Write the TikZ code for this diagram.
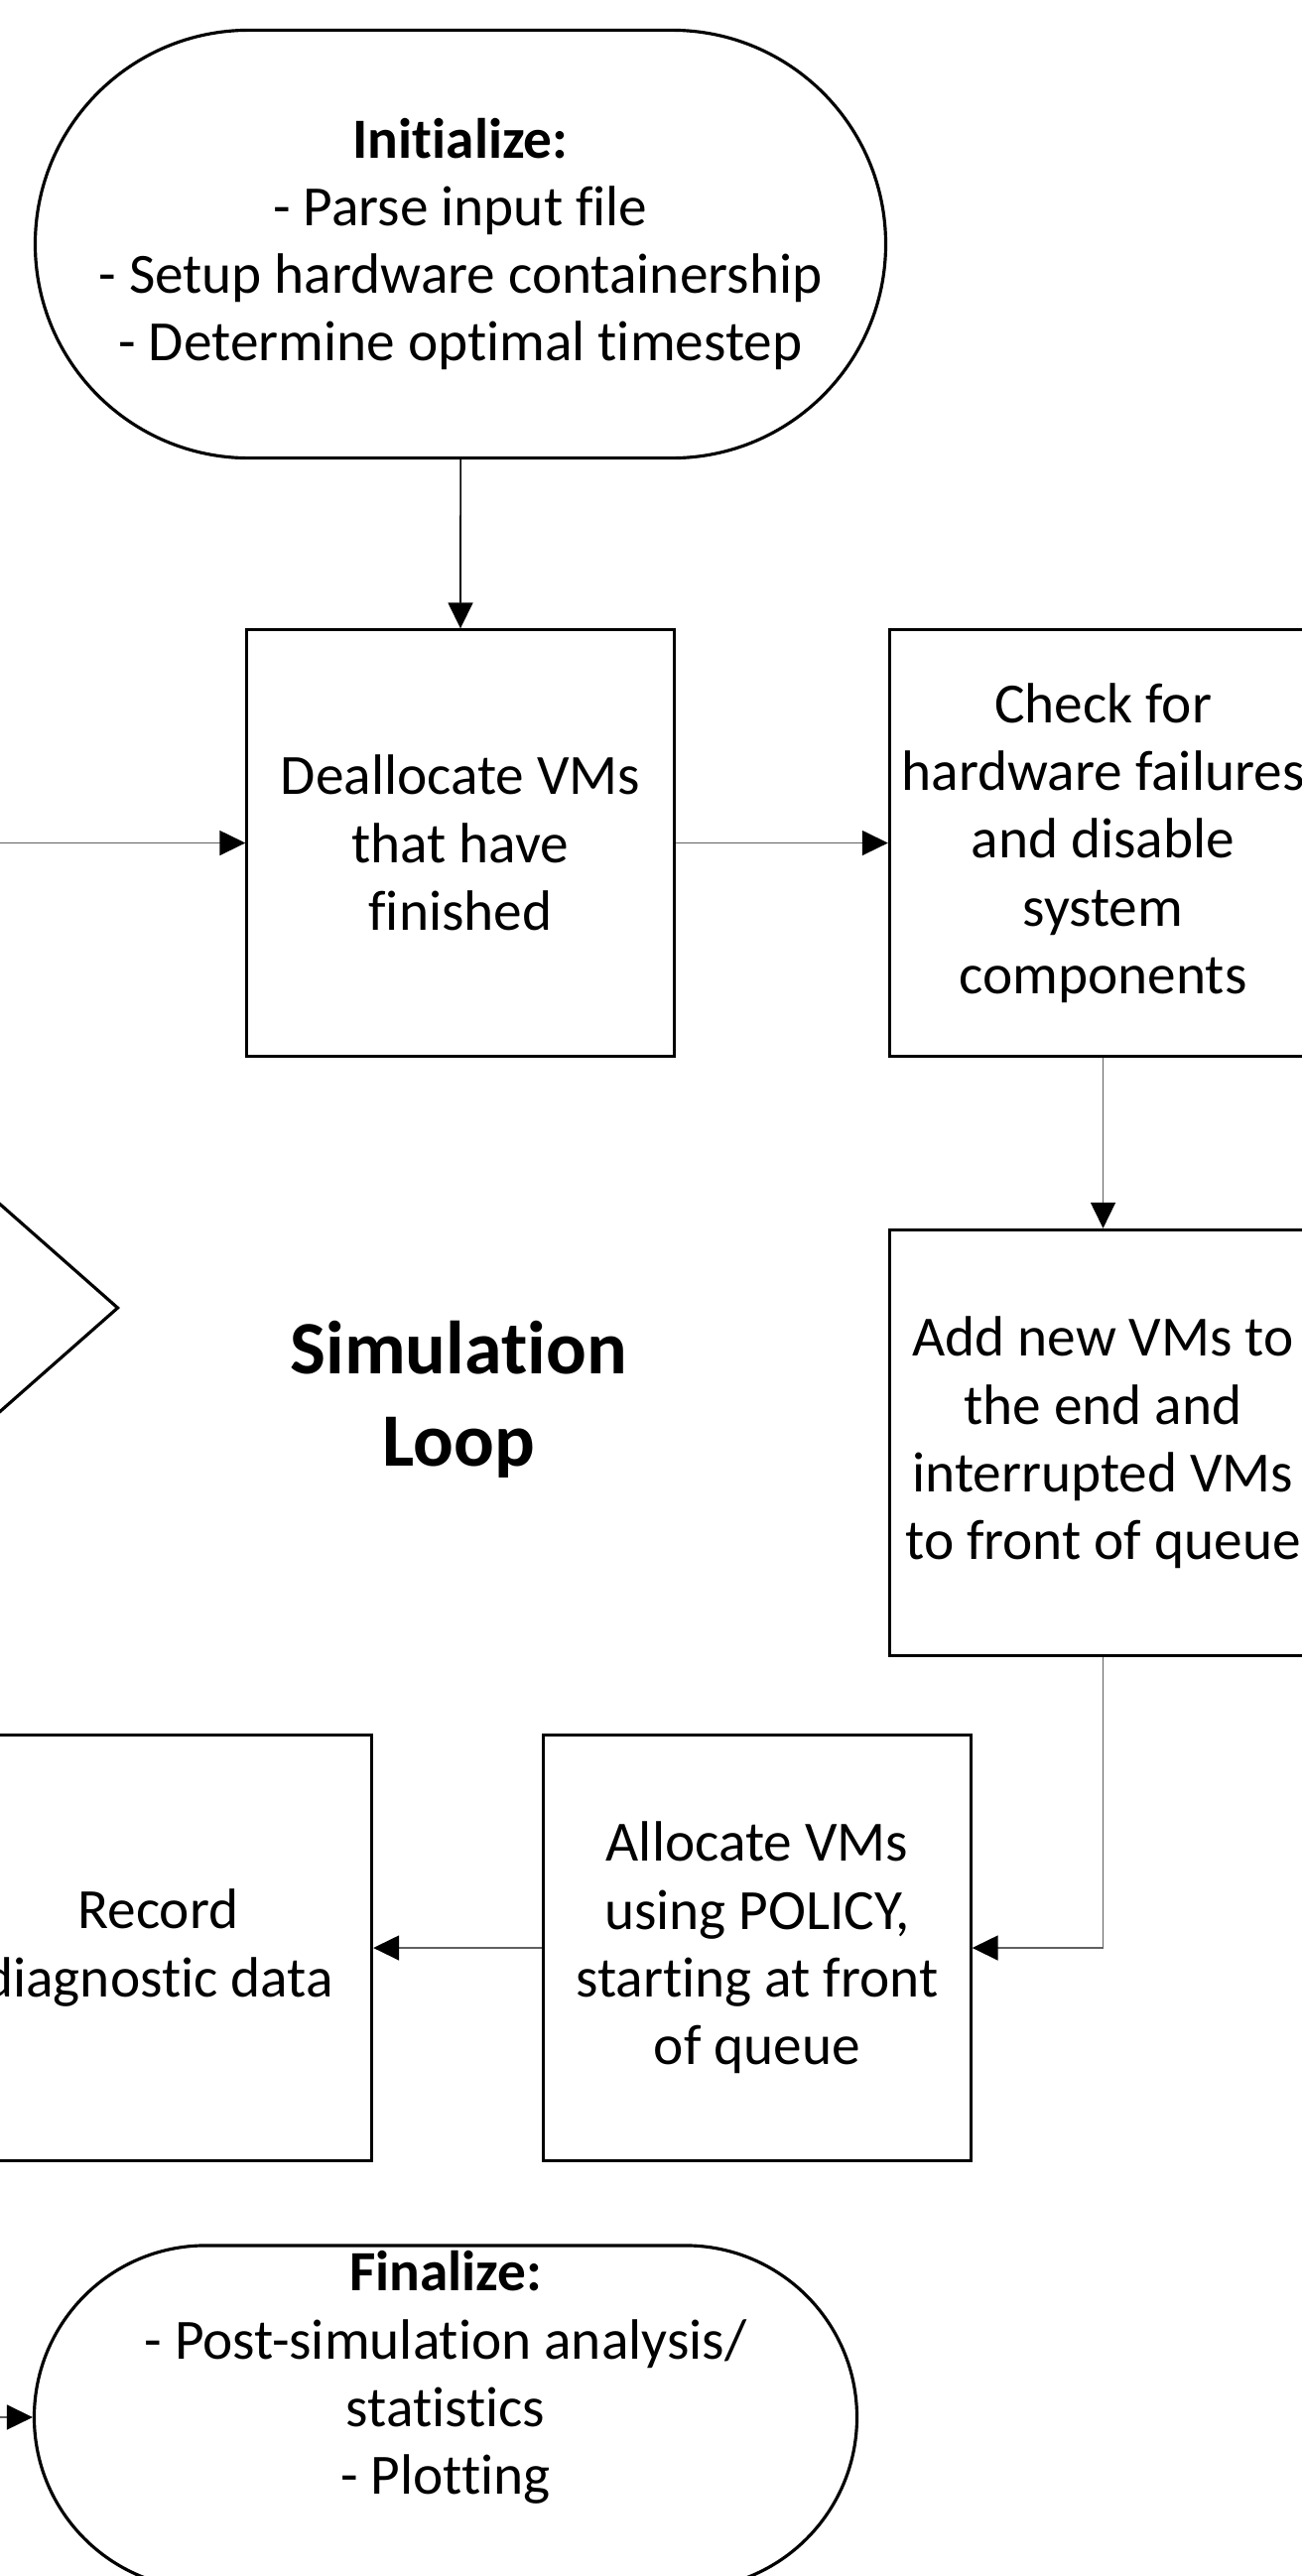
\documentclass[tikz,border=0pt]{standalone}
\usepackage{fontspec}
\setmainfont{Carlito}[Ligatures=NoCommon]
\usepackage{tikz}
\usetikzlibrary{shapes.geometric, shapes.misc, arrows.meta, positioning, calc}

\begin{document}
\begin{tikzpicture}[
    x=0.01cm, y=-0.01cm,
    every node/.style={font=\fontsize{16.3}{19.4}\selectfont},
    terminal/.style={rounded rectangle, draw=black, line width=0.9pt, align=center, minimum width=8.8cm, minimum height=4.31cm},
    process/.style={rectangle, draw=black, line width=0.9pt, align=center, minimum width=4.3cm, minimum height=4.29cm, inner sep=0pt},
    decision/.style={diamond, draw=black, line width=0.9pt, minimum width=8.6cm, minimum height=7.58cm, inner sep=0pt},
    arrow/.style={draw=gray!75!black, line width=0.45pt, -{Triangle[length=0.26cm, width=0.25cm, color=black]}}
]
    \useasboundingbox (0,0) rectangle (1312,2596);
    \clip (0,0) rectangle (1312,2596);

    % start and end of the run
    \node[terminal] (init) at (464,246) {\textbf{Initialize:}\\- Parse input file\\- Setup hardware containership\\- Determine optimal timestep};
    \node[terminal, minimum width=8.52cm, minimum height=3.46cm] (fin) at (449,2436) {};
    \node[align=center] (fintext) at (449,2396) {\textbf{Finalize:}\\- Post-simulation analysis/\\statistics\\- Plotting};

    % steps of one timestep
    \node[process, below=1.7cm of init] (dealloc) {Deallocate VMs\\that have\\finished};
    \node[process, right=2.14cm of dealloc] (check) {Check for\\hardware failures\\and disable\\system\\components};
    \node[process, below=1.72cm of check] (addvm) {Add new VMs to\\the end and\\interrupted VMs\\to front of queue};
    \node[process] (alloc) at (763,1963) {Allocate VMs\\using POLICY,\\starting at front\\of queue};
    \node[process, left=1.7cm of alloc] (record) {Record\\diagnostic data};
    \node[decision] (more) at (-311,1318) {};

    \node[align=center, font=\fontsize{21.6}{26.4}\selectfont\bfseries] (loop) at (462,1410) {Simulation\\Loop};

    \draw[arrow, draw=black] (init) -- (dealloc);
    \draw[arrow] (dealloc) -- (check);
    \draw[arrow] (check) -- (addvm);
    \draw[arrow] (addvm.south) |- (alloc.east);
    \draw[arrow] (alloc) -- (record);
    \draw[arrow] (more.north) |- (dealloc.west);
    \draw[arrow] (more.south) |- (fin.west);

\end{tikzpicture}
\end{document}
